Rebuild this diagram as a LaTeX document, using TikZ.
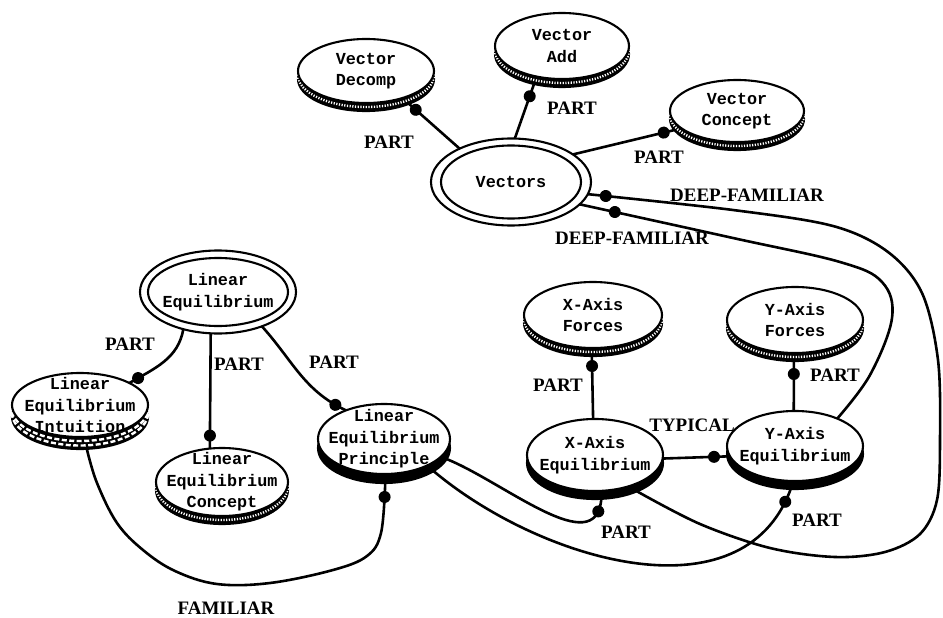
\documentclass[tikz,border=0pt]{standalone}
\usepackage{fontspec}
\newfontfamily\conceptfont{Liberation Mono}
\newfontfamily\relationfont{Liberation Serif}
\usetikzlibrary{shapes.geometric,decorations.markings}
\pgfdeclarelayer{links}
\pgfsetlayers{links,main}

\tikzset{
  concept/.style={ellipse, draw=black, fill=white, line width=2.1pt, inner sep=0pt, outer sep=0pt},
  ctext/.style={font=\conceptfont\bfseries\fontsize{16.8}{21.5}\selectfont, align=center, inner sep=0pt},
  % disk with a milled (coin-like) edge
  coin/.style={concept,
    preaction={fill=black, draw=black, transform canvas={yshift=-8pt}},
    preaction={draw=white, line width=2.4pt, dash pattern=on 1.2pt off 1.5pt, transform canvas={yshift=-4pt}}},
  % disk with a brick-pattern edge
  brick/.style={concept,
    preaction={fill=black, draw=black, transform canvas={yshift=-12pt}},
    preaction={draw=white, line width=2.4pt, dash pattern=on 5pt off 2.5pt, transform canvas={yshift=-4pt}},
    preaction={draw=white, line width=2.4pt, dash pattern=on 5pt off 2.5pt, dash phase=3.5pt, transform canvas={yshift=-8.5pt}}},
  % disk with a solid black edge
  solidrim/.style={concept, preaction={fill=black, draw=black, transform canvas={yshift=-#1}}},
  solidrim/.default=8pt,
  rel/.style={font=\relationfont\bfseries\fontsize{19}{22}\selectfont, inner sep=0pt},
  link/.style={draw=black, line width=2.6pt, line cap=round},
  knob/.style={postaction={decorate, decoration={markings,
      mark=at position -#1 with {\fill[black] (0,0) circle (6pt);}}}},
}

\begin{document}
\begin{tikzpicture}[x=1pt, y=-1pt]
\useasboundingbox (0,0) rectangle (943,618);

% ---- vector cluster ----
\node[concept, minimum width=160pt, minimum height=87pt,
      label={[ctext]center:Vectors}] (ve) at (511,182) {};
\draw[line width=2.1pt] (ve.center) ellipse [x radius=70pt, y radius=36.5pt];
\node[coin, minimum width=136pt, minimum height=64pt,
      label={[ctext]center:{Vector\\Decomp}}] (vd) at (366,71) {};
\node[coin, minimum width=134pt, minimum height=66pt,
      label={[ctext]center:{Vector\\Add}}] (va) at (562,46) {};
\node[coin, minimum width=134pt, minimum height=62pt,
      label={[ctext]center:{Vector\\Concept}}] (vc) at (737,111) {};

% ---- linear equilibrium cluster ----
\node[concept, minimum width=156pt, minimum height=83pt,
      label={[ctext]center:{Linear\\Equilibrium}}] (le) at (218,292) {};
\draw[line width=2.1pt] (le.center) ellipse [x radius=70pt, y radius=34pt];
\node[brick, minimum width=136pt, minimum height=64pt,
      label={[ctext]center:{Linear\\Equilibrium\\Intuition}}] (li) at (80,405) {};
\node[coin, minimum width=132pt, minimum height=68pt,
      label={[ctext]center:{Linear\\Equilibrium\\Concept}}] (lc) at (222,482) {};
\node[solidrim=9pt, minimum width=132pt, minimum height=70pt,
      label={[ctext]center:{Linear\\Equilibrium\\Principle}}] (lp) at (384,439) {};

% ---- axis cluster ----
\node[coin, minimum width=138pt, minimum height=66pt,
      label={[ctext]center:{X-Axis\\Forces}}] (xf) at (593,315) {};
\node[coin, minimum width=136pt, minimum height=66pt,
      label={[ctext]center:{Y-Axis\\Forces}}] (yf) at (795,320) {};
\node[solidrim, minimum width=136pt, minimum height=72pt,
      label={[ctext]center:{X-Axis\\Equilibrium}}] (xe) at (595,455) {};
\node[solidrim, minimum width=136pt, minimum height=70pt,
      label={[ctext]center:{Y-Axis\\Equilibrium}}] (ye) at (795,446) {};

% ---- relation labels ----
\node[rel] (r1) at (389,142) {PART};
\node[rel] (r2) at (572,108) {PART};
\node[rel] (r3) at (659,157) {PART};
\node[rel] (r4) at (747,195) {DEEP-FAMILIAR};
\node[rel] (r5) at (632,238) {DEEP-FAMILIAR};
\node[rel] (r6) at (130,344) {PART};
\node[rel] (r7) at (239,364) {PART};
\node[rel] (r8) at (334,362) {PART};
\node[rel] (r9) at (226,608) {FAMILIAR};
\node[rel] (r10) at (558,385) {PART};
\node[rel] (r11) at (835,375) {PART};
\node[rel] (r12) at (692,425) {TYPICAL};
\node[rel] (r13) at (626,532) {PART};
\node[rel] (r14) at (817,520) {PART};

% ---- connectors ----
\begin{pgfonlayer}{links}
\fill[white] (0,0) rectangle (943,618);
\draw[link, knob=9pt]  (ve.147) -- ([yshift=-8pt]vd.-30);
\draw[link, knob=13pt] (ve.85) -- ([yshift=-8pt]va.-133);
\draw[link, knob=11pt] (ve.24) -- ([yshift=-8pt]vc.-170);
\draw[link, knob=18pt] plot[smooth, tension=0.55] coordinates {
  ([yshift=-8pt]xe.-34) (700,524) (770,548) (835,557) (885,552) (920,534)
  (937,500) (940,440) (938,360) (922,293) (888,252) (833,226) (733,210) (ve.-9)};
\draw[link, knob=36pt] plot[smooth, tension=0.6] coordinates {
  (ye.33) (870,375) (892,318) (882,282) (840,262) (733,238) (ve.-18)};
\draw[link, knob=10pt] (le.-133) to[out=-100, in=30] (li.24);
\draw[link, knob=13pt] (le.-100) -- (lc.110);
\draw[link, knob=12pt] (le.-38) to[out=-48, in=155] (lp.143);
\draw[link, knob=14pt] plot[smooth, tension=0.6] coordinates {
  ([yshift=-12pt]li.-78) (97,483) (117,523) (143,550) (175,571) (217,584)
  (270,583) (333,570) (367,556) (381,533) ([yshift=-9pt]lp.-88)};
\draw[link, knob=13pt] ([yshift=-9pt]lp.-10) to[out=-22, in=-95] ([yshift=-8pt]xe.-80);
\draw[link, knob=14pt] ([yshift=-9pt]lp.-25) to[out=-40, in=-110] ([yshift=-8pt]ye.-97);
\draw[link, knob=10pt] (xe.93) -- ([yshift=-8pt]xf.-92);
\draw[link, knob=13pt] (ye.92) -- ([yshift=-8pt]yf.-92);
\draw[link, knob=16pt] (xe.-3) -- (ye.-171);
\end{pgfonlayer}
\end{tikzpicture}
\end{document}
